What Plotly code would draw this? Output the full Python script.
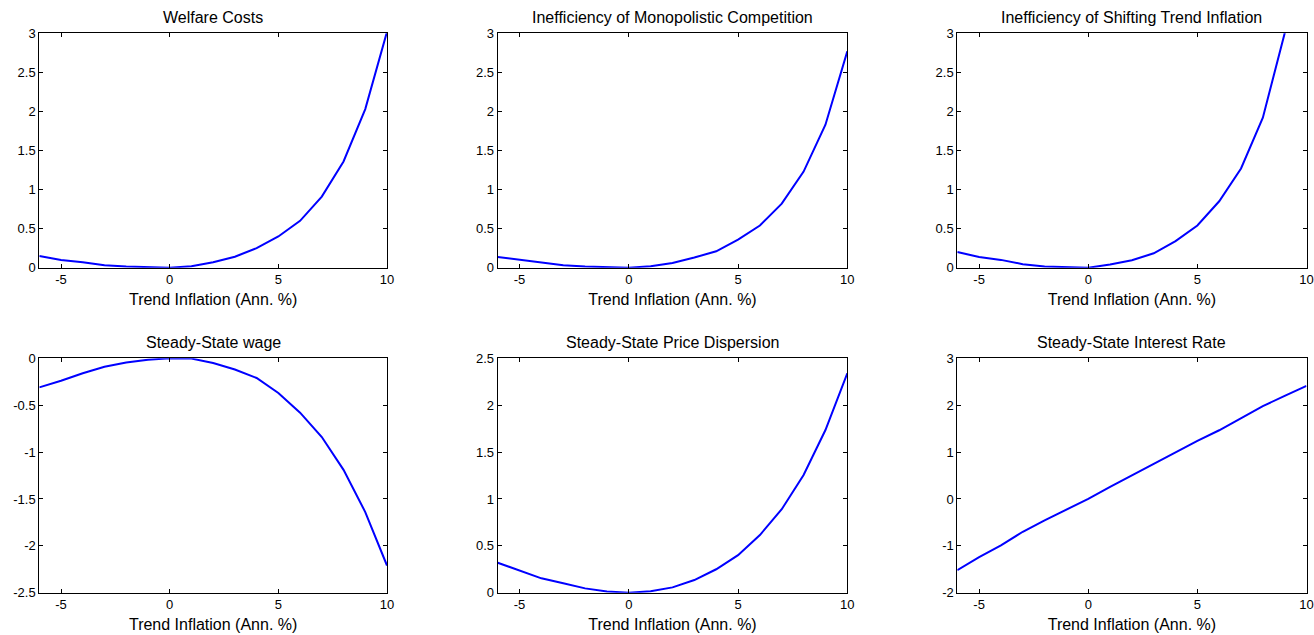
import plotly.graph_objects as go

# Trend inflation grid (annualised %)
trend_inflation = [-6, -5, -4, -3, -2, -1, 0, 1, 2, 3, 4, 5, 6, 7, 8, 9, 10]

welfare_costs = [0.15, 0.10, 0.07, 0.03, 0.015, 0.005, 0.0, 0.02, 0.07, 0.14, 0.25, 0.40,
                 0.60, 0.91, 1.36, 2.03, 3.02]
ineff_monopolistic = [0.137, 0.10, 0.06, 0.03, 0.015, 0.005, 0.0, 0.02, 0.06, 0.13, 0.21,
                      0.36, 0.54, 0.82, 1.23, 1.83, 2.77]
ineff_shifting = [0.20, 0.137, 0.10, 0.045, 0.015, 0.005, 0.0, 0.04, 0.095, 0.185, 0.34,
                  0.54, 0.85, 1.27, 1.92, 3.0, 4.6]
ss_wage = [-0.31, -0.24, -0.16, -0.09, -0.045, -0.015, 0.0, -0.003, -0.05, -0.12, -0.21,
           -0.37, -0.58, -0.84, -1.19, -1.64, -2.21]
ss_price_dispersion = [0.32, 0.235, 0.153, 0.10, 0.046, 0.014, 0.0, 0.015, 0.057, 0.135,
                       0.25, 0.40, 0.615, 0.89, 1.255, 1.735, 2.34]
ss_interest_rate = [-1.52, -1.24, -0.99, -0.70, -0.455, -0.23, 0.0, 0.256, 0.505, 0.754,
                    1.0, 1.24, 1.465, 1.73, 1.98, 2.2, 2.41]

titles = ["Welfare Costs", "Inefficiency of Monopolistic Competition",
          "Inefficiency of Shifting Trend Inflation", "Steady-State wage",
          "Steady-State Price Dispersion", "Steady-State Interest Rate"]
series = [welfare_costs, ineff_monopolistic, ineff_shifting, ss_wage,
          ss_price_dispersion, ss_interest_rate]
y_ranges = [[0, 3], [0, 3], [0, 3], [-2.5, 0], [0, 2.5], [-2, 3]]
y_ticks = [[0, 0.5, 1, 1.5, 2, 2.5, 3], [0, 0.5, 1, 1.5, 2, 2.5, 3],
           [0, 0.5, 1, 1.5, 2, 2.5, 3], [-2.5, -2, -1.5, -1, -0.5, 0],
           [0, 0.5, 1, 1.5, 2, 2.5], [-2, -1, 0, 1, 2, 3]]
x_ticks = [-5, 0, 5, 10]
x_label = "Trend Inflation (Ann. %)"


def fmt(v):
    # MATLAB-style labels with an ASCII hyphen for negatives
    return ("%g" % v)


W, H = 1314, 635
x_px = [(39.3, 387.0), (497.7, 847.3), (957.3, 1306.5)]
y_px = [(33.3, 267.7), (358.3, 592.7)]

FONT = "Liberation Sans, Arial, sans-serif"
fig = go.Figure()
layout = dict(
    width=W, height=H, margin=dict(l=0, r=0, t=0, b=0, autoexpand=False),
    paper_bgcolor="white", plot_bgcolor="white", showlegend=False,
    font=dict(family=FONT, size=13, color="black"),
)
annotations = []
for i in range(6):
    r, c = divmod(i, 3)
    n = "" if i == 0 else str(i + 1)
    xd = [x_px[c][0] / W, x_px[c][1] / W]
    yd = [1 - y_px[r][1] / H, 1 - y_px[r][0] / H]
    fig.add_trace(go.Scatter(x=trend_inflation, y=series[i], mode="lines",
                             line=dict(color="#0000ff", width=2),
                             xaxis="x" + n, yaxis="y" + n, hoverinfo="x+y"))
    layout["xaxis" + n] = dict(
        domain=xd, anchor="y" + n, range=[-6, 10], tickmode="array",
        tickvals=x_ticks, ticktext=[fmt(v) for v in x_ticks],
        ticks="inside", ticklen=4, tickcolor="black", showline=True, linecolor="black",
        linewidth=1, mirror="ticks", showgrid=False, zeroline=False, automargin=False,
        tickfont=dict(size=13, family=FONT), fixedrange=True,
        title=dict(text=x_label, font=dict(size=16, family=FONT), standoff=7),
    )
    layout["yaxis" + n] = dict(
        domain=yd, anchor="x" + n, range=y_ranges[i], tickmode="array",
        tickvals=y_ticks[i], ticktext=[fmt(v) for v in y_ticks[i]],
        ticks="inside", ticklen=4, tickcolor="black", showline=True, linecolor="black",
        linewidth=1, mirror="ticks", showgrid=False, zeroline=False, automargin=False,
        tickfont=dict(size=13, family=FONT), fixedrange=True,
    )
    annotations.append(dict(
        text=titles[i], x=(xd[0] + xd[1]) / 2, y=yd[1], xref="paper", yref="paper",
        xanchor="center", yanchor="bottom", yshift=5, showarrow=False,
        font=dict(size=16, family=FONT, color="black"),
    ))
layout["annotations"] = annotations
fig.update_layout(**layout)
fig.write_html("out.html")
